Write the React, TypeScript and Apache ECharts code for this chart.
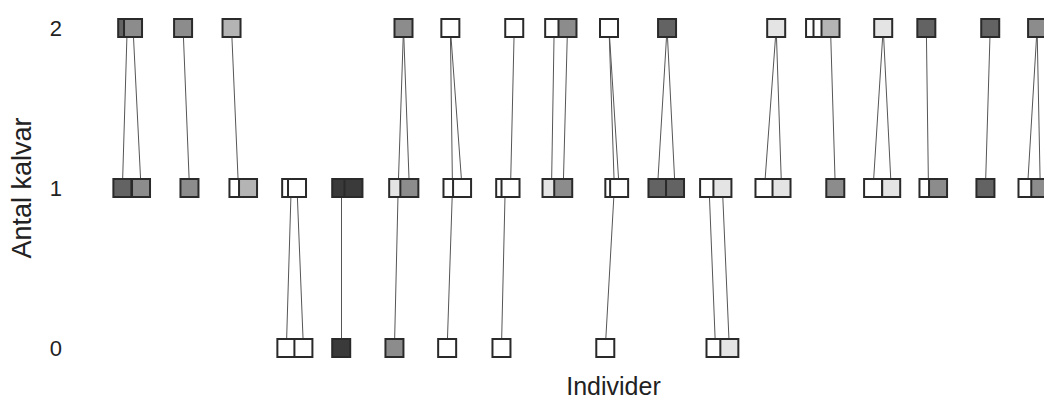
import React, { useEffect, useRef } from "react";
import * as echarts from "echarts";

// Squares at level 2 (Antal kalvar = 2): x position along "Individer", shade class
const topX = [0.98, 1.09, 2.03, 2.94, 6.17, 7.05, 8.25, 9.0, 9.25, 10.03, 11.12, 13.17, 13.9, 14.04, 14.19, 15.18, 15.99, 17.19, 18.07];
const topShade = [4, 3, 3, 2, 3, 0, 0, 0, 3, 0, 4, 1, 0, 0, 2, 1, 4, 4, 3];

// Squares at level 1
const midX = [0.89, 1.24, 2.15, 3.07, 3.25, 4.06, 4.17, 5.0, 5.23, 6.07, 6.28, 7.09, 7.27, 8.08, 8.18, 8.95, 9.17, 10.13, 10.22, 10.94, 11.27, 11.91, 12.16, 12.95, 13.27, 14.28, 14.99, 15.33, 16.03, 16.21, 17.1, 17.89, 18.13];
const midShade = [4, 3, 3, 0, 2, 0, 0, 5, 5, 1, 3, 0, 0, 0, 0, 1, 3, 0, 0, 4, 4, 0, 1, 0, 1, 3, 0, 1, 0, 3, 4, 0, 3];

// Squares at level 0
const lowX = [3.97, 4.29, 5.0, 6.0, 6.99, 8.01, 9.96, 12.03, 12.29];
const lowShade = [0, 0, 5, 3, 0, 0, 0, 0, 1];

// Connections: [index in topX, index in midX] and [index in midX, index in lowX]
const topToMid: [number, number][] = [
  [0, 0], [1, 1], [2, 2], [3, 3], [4, 9], [4, 10], [5, 11], [5, 12], [6, 14], [7, 15], [8, 16],
  [9, 17], [9, 18], [10, 19], [10, 20], [11, 23], [11, 24], [14, 25], [15, 26], [15, 27],
  [16, 28], [17, 30], [18, 31], [18, 32],
];
const midToLow: [number, number][] = [
  [5, 0], [6, 1], [7, 2], [9, 3], [11, 4], [13, 5], [17, 6], [21, 7], [22, 8],
];

const yTicks = [0, 1, 2];
const shadeColors = ["#ffffff", "#e4e4e4", "#b4b4b4", "#8c8c8c", "#636363", "#3a3a3a"];

export default function App() {
  const ref = useRef<HTMLDivElement>(null);
  useEffect(() => {
    if (!ref.current) return;
    const chart = echarts.init(ref.current, undefined, { renderer: "svg" });
    const points: number[][] = [
      ...topX.map((x, i) => [x, 2, topShade[i]]),
      ...midX.map((x, i) => [x, 1, midShade[i]]),
      ...lowX.map((x, i) => [x, 0, lowShade[i]]),
    ];
    const links = [
      ...topToMid.map(([a, b]) => ({ coords: [[topX[a], 2], [midX[b], 1]] })),
      ...midToLow.map(([a, b]) => ({ coords: [[midX[a], 1], [lowX[b], 0]] })),
    ];
    const font = "'Liberation Sans', Arial, sans-serif";
    chart.setOption({
      animation: false,
      backgroundColor: "#ffffff",
      grid: { left: 75, width: 969, top: 28, bottom: 49, containLabel: false },
      xAxis: {
        type: "value",
        min: 0,
        max: 18.2,
        name: "Individer",
        nameLocation: "middle",
        nameGap: 25,
        nameTextStyle: { fontSize: 25, color: "#222", fontFamily: font, padding: [0, 0, 0, 108] },
        axisLine: { show: false },
        axisTick: { show: false },
        axisLabel: { show: false },
        splitLine: { show: false },
      },
      yAxis: {
        type: "value",
        min: 0,
        max: 2,
        interval: 1,
        name: "Antal kalvar",
        nameLocation: "middle",
        nameRotate: 90,
        nameGap: 40,
        nameTextStyle: { fontSize: 27, color: "#222", fontFamily: font },
        axisLine: { show: false },
        axisTick: { show: false },
        splitLine: { show: false },
        axisLabel: {
          margin: 13,
          fontSize: 22,
          color: "#222",
          fontFamily: font,
          formatter: (v: number) => (yTicks.includes(v) ? String(v) : ""),
        },
      },
      series: [
        {
          type: "lines",
          coordinateSystem: "cartesian2d",
          z: 1,
          silent: true,
          lineStyle: { color: "#555", width: 1, opacity: 1, curveness: 0 },
          data: links,
        },
        {
          type: "scatter",
          z: 2,
          symbol: "rect",
          symbolSize: 18,
          clip: false,
          itemStyle: {
            color: (p: any) => shadeColors[p.data[2]],
            borderColor: "#2a2a2a",
            borderWidth: 2,
            opacity: 1,
          },
          data: points,
        },
      ],
    });
    return () => chart.dispose();
  }, []);
  return (
    <div
      ref={ref}
      style={{ position: "fixed", left: 0, top: 0, width: 1044, height: 403, background: "#fff" }}
    />
  );
}
